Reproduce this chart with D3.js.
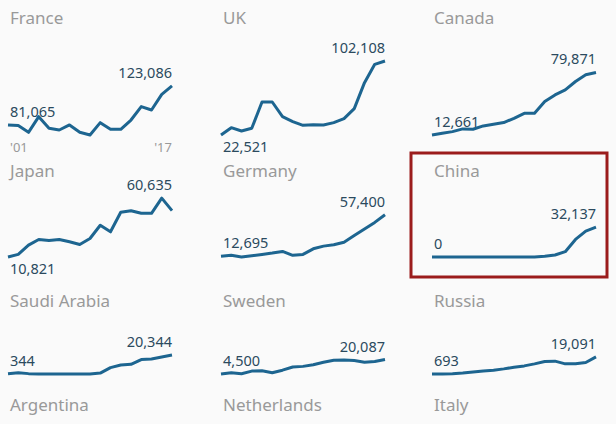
<!DOCTYPE html>
<html><head><meta charset="utf-8">
<script src="https://cdn.jsdelivr.net/npm/d3@7"></script>
<style>body{margin:0;background:#fafafa}text{font-family:"Noto Sans",sans-serif}</style>
</head><body><svg id="c" width="616" height="424"></svg>
<script>
// values in thousands, 2001-2017
const countries = ["France","UK","Canada","Japan","Germany","China","Saudi Arabia","Sweden","Russia"];
const france = [81.065,80.4,73.2,90,77.5,75.7,81.1,73.2,70.3,83.6,76.4,76.4,86.4,100.8,97.2,114,123.086];
const uk = [22.521,30.4,26.8,29.7,58,58,42.2,36.9,32.9,33.6,33.3,35.8,40.1,50.9,78.8,98.5,102.108];
const canada = [12.661,14.5,16.3,19.2,18.8,22.4,24.2,26,30.6,36,36,48.6,55.8,61.2,70.2,77.4,79.871];
const japan = [10.821,13.6,23.6,29.7,28.6,29.7,27.2,24.3,30.7,45,37.9,58.9,60.6,57.8,57.8,74.1,60.635];
const germany = [12.695,13.8,12,13.4,14.8,16.2,18,13.8,14.8,20.8,23.7,25.1,27.9,35,42.1,49.2,57.4];
const china = [0,0,0,0,0,0,0,0,0,0,0,0.7,2.1,5.7,18.9,27.9,32.137];
const saudi = [0.344,1.4,0.4,0.1,0,0,0,0,0.1,1,6.9,9.7,10.4,15.5,16.2,18.3,20.344];
const sweden = [4.5,5.9,4.8,7.6,7.9,5.9,8.6,12,12.7,14.5,17.2,19.3,19.6,19,17.2,17.9,20.087];
const russia = [0.693,0.693,1.05,1.8,2.9,4,4.7,6.2,8,9.4,11.6,14.1,14.5,11.6,11.6,13.1,19.091];
const firstLabels = ["81,065","22,521","12,661","10,821","12,695","0","344","4,500","693"];
const lastLabels = ["123,086","102,108","79,871","60,635","57,400","32,137","20,344","20,087","19,091"];
const extraTitles = ["Argentina","Netherlands","Italy"];
const yearLabels = ["'01","'17"];
const series = [france,uk,canada,japan,germany,china,saudi,sweden,russia];

const svg = d3.select("#c");
const colX = [8,221,432], rowTitleY = [24,177,307], baseY = [135,257,374];
const firstBelow = [false,true,false,true,false,false,false,false,false];
const x = d3.scaleLinear().domain([0,16]).range([0,164]);

// red highlight around China
svg.append("rect").attr("x",411).attr("y",153).attr("width",196).attr("height",124)
  .attr("fill","none").attr("stroke","#9b1c1c").attr("stroke-width",3);

series.forEach((vals,i) => {
  const col = i%3, row = Math.floor(i/3);
  const g = svg.append("g").attr("transform",`translate(${colX[col]},0)`);
  const mn = d3.min(vals);
  const y = d3.scaleLinear().domain([mn,mn+100]).range([baseY[row],baseY[row]-93]);
  g.append("text").attr("x",2).attr("y",rowTitleY[row]).attr("font-size",17).attr("fill","#999").text(countries[i]);
  g.append("path").datum(vals)
    .attr("d",d3.line().x((d,j)=>x(j)).y(d=>y(d)).curve(d3.curveLinear))
    .attr("fill","none").attr("stroke","#1d6590").attr("stroke-width",3).attr("stroke-linejoin","round");
  g.append("text").attr("x",2).attr("y",firstBelow[i]?y(vals[0])+17:y(vals[0])-8)
    .attr("font-size",14.5).attr("fill","#2b4a5e").text(firstLabels[i]);
  g.append("text").attr("x",x(16)).attr("text-anchor","end").attr("y",y(i==3?d3.max(vals):vals[16])-8)
    .attr("font-size",14.5).attr("fill","#2b4a5e").text(lastLabels[i]);
  if (i==0) {
    g.append("text").attr("x",2).attr("y",152).attr("font-size",13).attr("fill","#999").text(yearLabels[0]);
    g.append("text").attr("x",x(16)).attr("text-anchor","end").attr("y",152).attr("font-size",13).attr("fill","#999").text(yearLabels[1]);
  }
});
extraTitles.forEach((t,i)=>svg.append("text").attr("x",colX[i]+2).attr("y",411).attr("font-size",17).attr("fill","#999").text(t));
</script></body></html>
